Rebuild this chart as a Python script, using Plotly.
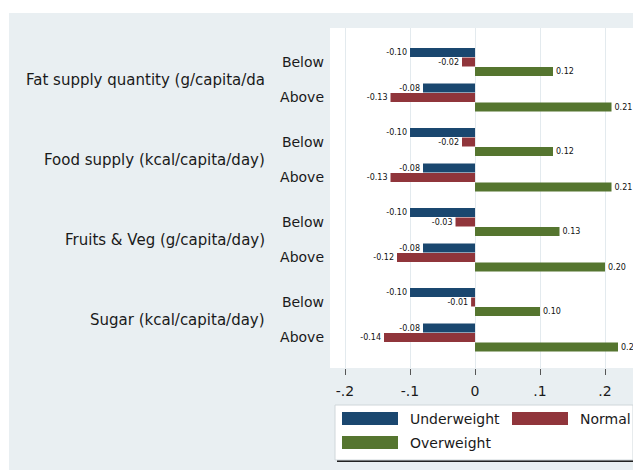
import plotly.graph_objects as go

# chart values
groups = ['Fat supply quantity (g/capita/da', 'Food supply (kcal/capita/day)',
          'Fruits & Veg (g/capita/day)', 'Sugar (kcal/capita/day)']
levels = ['Below', 'Above']
series = ['Underweight', 'Normal', 'Overweight']
underweight = [-0.10, -0.08, -0.10, -0.08, -0.10, -0.08, -0.10, -0.08]
normal = [-0.02, -0.13, -0.02, -0.13, -0.03, -0.12, -0.006, -0.14]
overweight = [0.12, 0.21, 0.12, 0.21, 0.13, 0.20, 0.10, 0.22]
xticks = [-0.2, -0.1, 0, 0.1, 0.2]
xticktext = ['-.2', '-.1', '0', '.1', '.2']

colors = ['#1A476F', '#90353B', '#55752F']
bg = '#E9EFF2'
font = 'DejaVu Sans'

# the page puts the figure 8px in from the top-left corner
PAD = 8
W, H = 641 - PAD, 470 - PAD
L, R, T, B = 330 - PAD, 5, 28 - PAD, 102
PW, PH = W - L - R, H - T - B


# page pixel -> paper coords
def px(x):
    return (x - PAD - L) / PW


def py(y):
    return (H - B - (y - PAD)) / PH


def ypos(g, s):
    return 34 + 80 * g + 35.5 * s


ys = [ypos(g, s) for g in range(len(groups)) for s in range(len(levels))]
ylabels = [lv for g in groups for lv in levels]

fig = go.Figure()
offsets = [-14, -4.5, 5]
for name, vals, col, off in zip(series, [underweight, normal, overweight], colors, offsets):
    fig.add_trace(go.Bar(
        x=vals, y=ys, orientation='h', name=name,
        width=9, offset=off,
        marker=dict(color=col, line=dict(width=0)),
        text=vals, texttemplate='%{x:.2f}', textposition='outside',
        textfont=dict(size=8, color='#111', family=font),
        constraintext='none', cliponaxis=False, showlegend=False))

shapes = [
    # white strips round the graph region
    dict(type='rect', xref='paper', yref='paper', x0=px(0), x1=px(641), y0=py(0), y1=py(13),
         fillcolor='white', line_width=0, layer='below'),
    dict(type='rect', xref='paper', yref='paper', x0=px(0), x1=px(9), y0=py(470), y1=py(0),
         fillcolor='white', line_width=0, layer='below'),
    # legend box with shadow
    dict(type='rect', xref='paper', yref='paper', x0=px(337), x1=px(635), y0=py(462), y1=py(407),
         fillcolor='#222', line_width=0),
    dict(type='rect', xref='paper', yref='paper', x0=px(335), x1=px(633), y0=py(460), y1=py(405),
         fillcolor='white', line=dict(color='#cfd6da', width=1)),
]
annotations = []
key_pos = [(342, 412), (512, 412), (342, 436)]
for name, col, (kx, ky) in zip(series, colors, key_pos):
    shapes.append(dict(type='rect', xref='paper', yref='paper', x0=px(kx), x1=px(kx + 56),
                       y0=py(ky + 13), y1=py(ky), fillcolor=col, line_width=0))
    annotations.append(dict(text=name, xref='paper', yref='paper', x=px(kx + 66), y=py(ky + 7),
                            xanchor='left', yanchor='middle', showarrow=False,
                            font=dict(size=14, color='#1a1a1a', family=font)))

for g, grp in enumerate(groups):
    annotations.append(dict(text=grp, xref='paper', yref='y', x=px(267),
                            y=(ypos(g, 0) + ypos(g, 1)) / 2, xanchor='right', yanchor='middle',
                            showarrow=False, font=dict(size=15, color='#1a1a1a', family=font)))

fig.update_layout(
    width=W, height=H,
    margin=dict(l=L, r=R, t=T, b=B, autoexpand=False),
    paper_bgcolor=bg, plot_bgcolor='white',
    barmode='overlay',
    font=dict(family=font, color='#1a1a1a'),
    shapes=shapes, annotations=annotations,
    showlegend=False,
    xaxis=dict(range=[-0.2231, 0.2477], tickvals=xticks, ticktext=xticktext,
               ticks='outside', ticklen=6, tickcolor='#555', tickwidth=1,
               showgrid=True, gridcolor='#E3EAEE', zeroline=False, showline=False,
               tickfont=dict(size=14), ticklabelstandoff=4),
    yaxis=dict(range=[PH, 0], tickvals=ys, ticktext=ylabels, ticks='',
               showgrid=False, zeroline=False, showline=False,
               tickfont=dict(size=14), ticklabelstandoff=5),
)

fig.write_html('out.html')
